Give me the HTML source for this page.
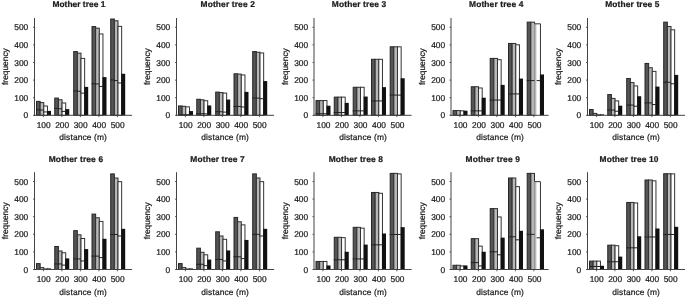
<!DOCTYPE html>
<html><head><meta charset="utf-8"><style>
html,body{margin:0;padding:0;background:#fff;}
body{width:685px;height:297px;overflow:hidden;}
svg{display:block;filter:grayscale(1) blur(0.3px);}
text{text-rendering:geometricPrecision;font-family:"Liberation Sans",sans-serif;font-size:8.4px;fill:#1a1a1a;stroke:#1a1a1a;stroke-width:0.22px;}
</style></head><body>
<svg width="685" height="297" viewBox="0 0 685 297">
<rect width="685" height="297" fill="#fff"/>
<g><rect x="36.5" y="101.37" width="3.65" height="13.93" fill="#555555" stroke="#262626" stroke-width="1"/><rect x="40.15" y="102.6" width="3.65" height="12.7" fill="#b8b8b8" stroke="#2e2e2e" stroke-width="1"/><rect x="43.8" y="106.03" width="3.65" height="9.27" fill="#ffffff" stroke="#333333" stroke-width="1"/><rect x="46.95" y="110.9" width="4.05" height="4.4" fill="#111111"/><line x1="36" y1="109.73" x2="40.15" y2="109.73" stroke="#222" stroke-width="1"/><line x1="39.65" y1="110.06" x2="43.8" y2="110.06" stroke="#222" stroke-width="1"/><line x1="43.3" y1="111.93" x2="47.45" y2="111.93" stroke="#222" stroke-width="1"/><rect x="54.75" y="98.08" width="3.65" height="17.22" fill="#555555" stroke="#262626" stroke-width="1"/><rect x="58.4" y="99.75" width="3.65" height="15.55" fill="#b8b8b8" stroke="#2e2e2e" stroke-width="1"/><rect x="62.05" y="103" width="3.65" height="12.3" fill="#ffffff" stroke="#333333" stroke-width="1"/><rect x="65.2" y="109.14" width="4.05" height="6.16" fill="#111111"/><line x1="54.25" y1="108.41" x2="58.4" y2="108.41" stroke="#222" stroke-width="1"/><line x1="57.9" y1="108.76" x2="62.05" y2="108.76" stroke="#222" stroke-width="1"/><line x1="61.55" y1="111.4" x2="65.7" y2="111.4" stroke="#222" stroke-width="1"/><rect x="73.7" y="51.56" width="3.65" height="63.74" fill="#555555" stroke="#262626" stroke-width="1"/><rect x="77.35" y="53.14" width="3.65" height="62.16" fill="#b8b8b8" stroke="#2e2e2e" stroke-width="1"/><rect x="81" y="58.42" width="3.65" height="56.88" fill="#ffffff" stroke="#333333" stroke-width="1"/><rect x="84.15" y="86.89" width="4.05" height="28.41" fill="#111111"/><line x1="73.2" y1="90.91" x2="77.35" y2="90.91" stroke="#222" stroke-width="1"/><line x1="76.85" y1="91.25" x2="81" y2="91.25" stroke="#222" stroke-width="1"/><line x1="80.5" y1="93.1" x2="84.65" y2="93.1" stroke="#222" stroke-width="1"/><rect x="92" y="26.57" width="3.65" height="88.73" fill="#555555" stroke="#262626" stroke-width="1"/><rect x="95.65" y="28.15" width="3.65" height="87.15" fill="#b8b8b8" stroke="#2e2e2e" stroke-width="1"/><rect x="99.3" y="33.96" width="3.65" height="81.34" fill="#ffffff" stroke="#333333" stroke-width="1"/><rect x="102.45" y="77.11" width="4.05" height="38.19" fill="#111111"/><line x1="91.5" y1="83.77" x2="95.65" y2="83.77" stroke="#222" stroke-width="1"/><line x1="95.15" y1="83.94" x2="99.3" y2="83.94" stroke="#222" stroke-width="1"/><line x1="98.8" y1="86.41" x2="102.95" y2="86.41" stroke="#222" stroke-width="1"/><rect x="110.7" y="19" width="3.65" height="96.3" fill="#555555" stroke="#262626" stroke-width="1"/><rect x="114.35" y="20.76" width="3.65" height="94.54" fill="#b8b8b8" stroke="#2e2e2e" stroke-width="1"/><rect x="118" y="26.39" width="3.65" height="88.91" fill="#ffffff" stroke="#333333" stroke-width="1"/><rect x="121.15" y="73.76" width="4.05" height="41.54" fill="#111111"/><line x1="110.2" y1="79.93" x2="114.35" y2="79.93" stroke="#222" stroke-width="1"/><line x1="113.85" y1="80.6" x2="118" y2="80.6" stroke="#222" stroke-width="1"/><line x1="117.5" y1="82.94" x2="121.65" y2="82.94" stroke="#222" stroke-width="1"/><line x1="34.5" y1="18" x2="34.5" y2="115.8" stroke="#444" stroke-width="1"/><line x1="34" y1="115.3" x2="132.1" y2="115.3" stroke="#444" stroke-width="1"/><line x1="33" y1="115.3" x2="34.5" y2="115.3" stroke="#333" stroke-width="0.8"/><text x="28.2" y="118.4" text-anchor="end">0</text><line x1="33" y1="97.7" x2="34.5" y2="97.7" stroke="#333" stroke-width="0.8"/><text x="28.2" y="100.8" text-anchor="end" textLength="13.9" lengthAdjust="spacing">100</text><line x1="33" y1="80.1" x2="34.5" y2="80.1" stroke="#333" stroke-width="0.8"/><text x="28.2" y="83.2" text-anchor="end" textLength="13.9" lengthAdjust="spacing">200</text><line x1="33" y1="62.5" x2="34.5" y2="62.5" stroke="#333" stroke-width="0.8"/><text x="28.2" y="65.6" text-anchor="end" textLength="13.9" lengthAdjust="spacing">300</text><line x1="33" y1="44.9" x2="34.5" y2="44.9" stroke="#333" stroke-width="0.8"/><text x="28.2" y="48" text-anchor="end" textLength="13.9" lengthAdjust="spacing">400</text><line x1="33" y1="27.3" x2="34.5" y2="27.3" stroke="#333" stroke-width="0.8"/><text x="28.2" y="30.4" text-anchor="end" textLength="13.9" lengthAdjust="spacing">500</text><line x1="43.4" y1="115.3" x2="43.4" y2="117.1" stroke="#333" stroke-width="0.8"/><text x="43.6" y="127.9" text-anchor="middle" textLength="13.9" lengthAdjust="spacing">100</text><line x1="61.9" y1="115.3" x2="61.9" y2="117.1" stroke="#333" stroke-width="0.8"/><text x="62.1" y="127.9" text-anchor="middle" textLength="13.9" lengthAdjust="spacing">200</text><line x1="80.4" y1="115.3" x2="80.4" y2="117.1" stroke="#333" stroke-width="0.8"/><text x="80.6" y="127.9" text-anchor="middle" textLength="13.9" lengthAdjust="spacing">300</text><line x1="98.9" y1="115.3" x2="98.9" y2="117.1" stroke="#333" stroke-width="0.8"/><text x="99.1" y="127.9" text-anchor="middle" textLength="13.9" lengthAdjust="spacing">400</text><line x1="117.4" y1="115.3" x2="117.4" y2="117.1" stroke="#333" stroke-width="0.8"/><text x="117.6" y="127.9" text-anchor="middle" textLength="13.9" lengthAdjust="spacing">500</text><text x="83.1" y="140.3" text-anchor="middle" font-size="8.6" textLength="47.6" lengthAdjust="spacing">distance (m)</text><text transform="translate(7.6,66.6) rotate(-90)" text-anchor="middle">frequency</text><text x="78.9" y="7.2" text-anchor="middle" font-weight="bold" font-size="8.6" textLength="52.9" lengthAdjust="spacing">Mother tree 1</text></g>
<g><rect x="178.5" y="105.94" width="3.65" height="9.36" fill="#555555" stroke="#262626" stroke-width="1"/><rect x="182.15" y="106.3" width="3.65" height="9" fill="#b8b8b8" stroke="#2e2e2e" stroke-width="1"/><rect x="185.8" y="106.89" width="3.65" height="8.41" fill="#ffffff" stroke="#333333" stroke-width="1"/><rect x="188.95" y="111.08" width="4.05" height="4.22" fill="#111111"/><line x1="178" y1="114.74" x2="182.15" y2="114.74" stroke="#222" stroke-width="1"/><line x1="181.65" y1="114.74" x2="185.8" y2="114.74" stroke="#222" stroke-width="1"/><line x1="185.3" y1="114.74" x2="189.45" y2="114.74" stroke="#222" stroke-width="1"/><rect x="196.75" y="99.26" width="3.65" height="16.04" fill="#555555" stroke="#262626" stroke-width="1"/><rect x="200.4" y="99.78" width="3.65" height="15.52" fill="#b8b8b8" stroke="#2e2e2e" stroke-width="1"/><rect x="204.05" y="100.73" width="3.65" height="14.57" fill="#ffffff" stroke="#333333" stroke-width="1"/><rect x="207.2" y="105.44" width="4.05" height="9.86" fill="#111111"/><line x1="196.25" y1="113.69" x2="200.4" y2="113.69" stroke="#222" stroke-width="1"/><line x1="199.9" y1="113.69" x2="204.05" y2="113.69" stroke="#222" stroke-width="1"/><line x1="203.55" y1="113.86" x2="207.7" y2="113.86" stroke="#222" stroke-width="1"/><rect x="215.7" y="92.09" width="3.65" height="23.21" fill="#555555" stroke="#262626" stroke-width="1"/><rect x="219.35" y="92.57" width="3.65" height="22.73" fill="#b8b8b8" stroke="#2e2e2e" stroke-width="1"/><rect x="223" y="93.1" width="3.65" height="22.2" fill="#ffffff" stroke="#333333" stroke-width="1"/><rect x="226.15" y="99.55" width="4.05" height="15.75" fill="#111111"/><line x1="215.2" y1="111.75" x2="219.35" y2="111.75" stroke="#222" stroke-width="1"/><line x1="218.85" y1="111.75" x2="223" y2="111.75" stroke="#222" stroke-width="1"/><line x1="222.5" y1="112.1" x2="226.65" y2="112.1" stroke="#222" stroke-width="1"/><rect x="234" y="73.79" width="3.65" height="41.51" fill="#555555" stroke="#262626" stroke-width="1"/><rect x="237.65" y="74.09" width="3.65" height="41.21" fill="#b8b8b8" stroke="#2e2e2e" stroke-width="1"/><rect x="241.3" y="74.97" width="3.65" height="40.33" fill="#ffffff" stroke="#333333" stroke-width="1"/><rect x="244.45" y="91.89" width="4.05" height="23.41" fill="#111111"/><line x1="233.5" y1="106.47" x2="237.65" y2="106.47" stroke="#222" stroke-width="1"/><line x1="237.15" y1="106.47" x2="241.3" y2="106.47" stroke="#222" stroke-width="1"/><line x1="240.8" y1="107" x2="244.95" y2="107" stroke="#222" stroke-width="1"/><rect x="252.7" y="51.56" width="3.65" height="63.74" fill="#555555" stroke="#262626" stroke-width="1"/><rect x="256.35" y="52.26" width="3.65" height="63.04" fill="#b8b8b8" stroke="#2e2e2e" stroke-width="1"/><rect x="260" y="52.97" width="3.65" height="62.33" fill="#ffffff" stroke="#333333" stroke-width="1"/><rect x="263.15" y="81.07" width="4.05" height="34.23" fill="#111111"/><line x1="252.2" y1="98.08" x2="256.35" y2="98.08" stroke="#222" stroke-width="1"/><line x1="255.85" y1="98.08" x2="260" y2="98.08" stroke="#222" stroke-width="1"/><line x1="259.5" y1="98.73" x2="263.65" y2="98.73" stroke="#222" stroke-width="1"/><line x1="176.5" y1="18" x2="176.5" y2="115.8" stroke="#444" stroke-width="1"/><line x1="176" y1="115.3" x2="274.1" y2="115.3" stroke="#444" stroke-width="1"/><line x1="175" y1="115.3" x2="176.5" y2="115.3" stroke="#333" stroke-width="0.8"/><text x="170.2" y="118.4" text-anchor="end">0</text><line x1="175" y1="97.7" x2="176.5" y2="97.7" stroke="#333" stroke-width="0.8"/><text x="170.2" y="100.8" text-anchor="end" textLength="13.9" lengthAdjust="spacing">100</text><line x1="175" y1="80.1" x2="176.5" y2="80.1" stroke="#333" stroke-width="0.8"/><text x="170.2" y="83.2" text-anchor="end" textLength="13.9" lengthAdjust="spacing">200</text><line x1="175" y1="62.5" x2="176.5" y2="62.5" stroke="#333" stroke-width="0.8"/><text x="170.2" y="65.6" text-anchor="end" textLength="13.9" lengthAdjust="spacing">300</text><line x1="175" y1="44.9" x2="176.5" y2="44.9" stroke="#333" stroke-width="0.8"/><text x="170.2" y="48" text-anchor="end" textLength="13.9" lengthAdjust="spacing">400</text><line x1="175" y1="27.3" x2="176.5" y2="27.3" stroke="#333" stroke-width="0.8"/><text x="170.2" y="30.4" text-anchor="end" textLength="13.9" lengthAdjust="spacing">500</text><line x1="185.4" y1="115.3" x2="185.4" y2="117.1" stroke="#333" stroke-width="0.8"/><text x="185.6" y="127.9" text-anchor="middle" textLength="13.9" lengthAdjust="spacing">100</text><line x1="203.9" y1="115.3" x2="203.9" y2="117.1" stroke="#333" stroke-width="0.8"/><text x="204.1" y="127.9" text-anchor="middle" textLength="13.9" lengthAdjust="spacing">200</text><line x1="222.4" y1="115.3" x2="222.4" y2="117.1" stroke="#333" stroke-width="0.8"/><text x="222.6" y="127.9" text-anchor="middle" textLength="13.9" lengthAdjust="spacing">300</text><line x1="240.9" y1="115.3" x2="240.9" y2="117.1" stroke="#333" stroke-width="0.8"/><text x="241.1" y="127.9" text-anchor="middle" textLength="13.9" lengthAdjust="spacing">400</text><line x1="259.4" y1="115.3" x2="259.4" y2="117.1" stroke="#333" stroke-width="0.8"/><text x="259.6" y="127.9" text-anchor="middle" textLength="13.9" lengthAdjust="spacing">500</text><text x="225.1" y="140.3" text-anchor="middle" font-size="8.6" textLength="47.6" lengthAdjust="spacing">distance (m)</text><text transform="translate(149.6,66.6) rotate(-90)" text-anchor="middle">frequency</text><text x="227.7" y="7.2" text-anchor="middle" font-weight="bold" font-size="8.6" textLength="54.3" lengthAdjust="spacing">Mother tree 2</text></g>
<g><rect x="316" y="100.58" width="3.65" height="14.72" fill="#555555" stroke="#262626" stroke-width="1"/><rect x="319.65" y="100.58" width="3.65" height="14.72" fill="#b8b8b8" stroke="#2e2e2e" stroke-width="1"/><rect x="323.3" y="100.58" width="3.65" height="14.72" fill="#ffffff" stroke="#333333" stroke-width="1"/><rect x="326.45" y="105.71" width="4.05" height="9.59" fill="#111111"/><line x1="315.5" y1="113.72" x2="319.65" y2="113.72" stroke="#222" stroke-width="1"/><line x1="319.15" y1="113.72" x2="323.3" y2="113.72" stroke="#222" stroke-width="1"/><line x1="322.8" y1="113.72" x2="326.95" y2="113.72" stroke="#222" stroke-width="1"/><rect x="334.25" y="97.14" width="3.65" height="18.16" fill="#555555" stroke="#262626" stroke-width="1"/><rect x="337.9" y="97.14" width="3.65" height="18.16" fill="#b8b8b8" stroke="#2e2e2e" stroke-width="1"/><rect x="341.55" y="97.14" width="3.65" height="18.16" fill="#ffffff" stroke="#333333" stroke-width="1"/><rect x="344.7" y="102.87" width="4.05" height="12.43" fill="#111111"/><line x1="333.75" y1="112.56" x2="337.9" y2="112.56" stroke="#222" stroke-width="1"/><line x1="337.4" y1="112.56" x2="341.55" y2="112.56" stroke="#222" stroke-width="1"/><line x1="341.05" y1="112.56" x2="345.2" y2="112.56" stroke="#222" stroke-width="1"/><rect x="353.2" y="87.29" width="3.65" height="28.01" fill="#555555" stroke="#262626" stroke-width="1"/><rect x="356.85" y="87.29" width="3.65" height="28.01" fill="#b8b8b8" stroke="#2e2e2e" stroke-width="1"/><rect x="360.5" y="87.29" width="3.65" height="28.01" fill="#ffffff" stroke="#333333" stroke-width="1"/><rect x="363.65" y="96.56" width="4.05" height="18.74" fill="#111111"/><line x1="352.7" y1="110.87" x2="356.85" y2="110.87" stroke="#222" stroke-width="1"/><line x1="356.35" y1="110.87" x2="360.5" y2="110.87" stroke="#222" stroke-width="1"/><line x1="360" y1="110.87" x2="364.15" y2="110.87" stroke="#222" stroke-width="1"/><rect x="371.5" y="59.3" width="3.65" height="56" fill="#555555" stroke="#262626" stroke-width="1"/><rect x="375.15" y="59.3" width="3.65" height="56" fill="#b8b8b8" stroke="#2e2e2e" stroke-width="1"/><rect x="378.8" y="59.3" width="3.65" height="56" fill="#ffffff" stroke="#333333" stroke-width="1"/><rect x="381.95" y="87.14" width="4.05" height="28.16" fill="#111111"/><line x1="371" y1="100.91" x2="375.15" y2="100.91" stroke="#222" stroke-width="1"/><line x1="374.65" y1="100.91" x2="378.8" y2="100.91" stroke="#222" stroke-width="1"/><line x1="378.3" y1="100.91" x2="382.45" y2="100.91" stroke="#222" stroke-width="1"/><rect x="390.2" y="46.81" width="3.65" height="68.49" fill="#555555" stroke="#262626" stroke-width="1"/><rect x="393.85" y="46.81" width="3.65" height="68.49" fill="#b8b8b8" stroke="#2e2e2e" stroke-width="1"/><rect x="397.5" y="46.81" width="3.65" height="68.49" fill="#ffffff" stroke="#333333" stroke-width="1"/><rect x="400.65" y="78.25" width="4.05" height="37.05" fill="#111111"/><line x1="389.7" y1="95.08" x2="393.85" y2="95.08" stroke="#222" stroke-width="1"/><line x1="393.35" y1="95.08" x2="397.5" y2="95.08" stroke="#222" stroke-width="1"/><line x1="397" y1="95.08" x2="401.15" y2="95.08" stroke="#222" stroke-width="1"/><line x1="314" y1="18" x2="314" y2="115.8" stroke="#444" stroke-width="1"/><line x1="313.5" y1="115.3" x2="411.6" y2="115.3" stroke="#444" stroke-width="1"/><line x1="312.5" y1="115.3" x2="314" y2="115.3" stroke="#333" stroke-width="0.8"/><text x="308.1" y="118.4" text-anchor="end">0</text><line x1="312.5" y1="97.7" x2="314" y2="97.7" stroke="#333" stroke-width="0.8"/><text x="308.1" y="100.8" text-anchor="end" textLength="13.9" lengthAdjust="spacing">100</text><line x1="312.5" y1="80.1" x2="314" y2="80.1" stroke="#333" stroke-width="0.8"/><text x="308.1" y="83.2" text-anchor="end" textLength="13.9" lengthAdjust="spacing">200</text><line x1="312.5" y1="62.5" x2="314" y2="62.5" stroke="#333" stroke-width="0.8"/><text x="308.1" y="65.6" text-anchor="end" textLength="13.9" lengthAdjust="spacing">300</text><line x1="312.5" y1="44.9" x2="314" y2="44.9" stroke="#333" stroke-width="0.8"/><text x="308.1" y="48" text-anchor="end" textLength="13.9" lengthAdjust="spacing">400</text><line x1="312.5" y1="27.3" x2="314" y2="27.3" stroke="#333" stroke-width="0.8"/><text x="308.1" y="30.4" text-anchor="end" textLength="13.9" lengthAdjust="spacing">500</text><line x1="322.9" y1="115.3" x2="322.9" y2="117.1" stroke="#333" stroke-width="0.8"/><text x="323.5" y="127.9" text-anchor="middle" textLength="13.9" lengthAdjust="spacing">100</text><line x1="341.4" y1="115.3" x2="341.4" y2="117.1" stroke="#333" stroke-width="0.8"/><text x="342" y="127.9" text-anchor="middle" textLength="13.9" lengthAdjust="spacing">200</text><line x1="359.9" y1="115.3" x2="359.9" y2="117.1" stroke="#333" stroke-width="0.8"/><text x="360.5" y="127.9" text-anchor="middle" textLength="13.9" lengthAdjust="spacing">300</text><line x1="378.4" y1="115.3" x2="378.4" y2="117.1" stroke="#333" stroke-width="0.8"/><text x="379" y="127.9" text-anchor="middle" textLength="13.9" lengthAdjust="spacing">400</text><line x1="396.9" y1="115.3" x2="396.9" y2="117.1" stroke="#333" stroke-width="0.8"/><text x="397.5" y="127.9" text-anchor="middle" textLength="13.9" lengthAdjust="spacing">500</text><text x="363" y="140.3" text-anchor="middle" font-size="8.6" textLength="47.6" lengthAdjust="spacing">distance (m)</text><text transform="translate(287.5,66.6) rotate(-90)" text-anchor="middle">frequency</text><text x="359" y="7.2" text-anchor="middle" font-weight="bold" font-size="8.6" textLength="54.3" lengthAdjust="spacing">Mother tree 3</text></g>
<g><rect x="453" y="110.56" width="3.65" height="4.74" fill="#555555" stroke="#262626" stroke-width="1"/><rect x="456.65" y="110.56" width="3.65" height="4.74" fill="#b8b8b8" stroke="#2e2e2e" stroke-width="1"/><rect x="460.3" y="110.87" width="3.65" height="4.43" fill="#ffffff" stroke="#333333" stroke-width="1"/><rect x="463.45" y="110.72" width="4.05" height="4.58" fill="#111111"/><rect x="471.25" y="86.76" width="3.65" height="28.54" fill="#555555" stroke="#262626" stroke-width="1"/><rect x="474.9" y="86.76" width="3.65" height="28.54" fill="#b8b8b8" stroke="#2e2e2e" stroke-width="1"/><rect x="478.55" y="87.99" width="3.65" height="27.31" fill="#ffffff" stroke="#333333" stroke-width="1"/><rect x="481.7" y="97.7" width="4.05" height="17.6" fill="#111111"/><line x1="470.75" y1="110.87" x2="474.9" y2="110.87" stroke="#222" stroke-width="1"/><line x1="474.4" y1="110.87" x2="478.55" y2="110.87" stroke="#222" stroke-width="1"/><line x1="478.05" y1="110.87" x2="482.2" y2="110.87" stroke="#222" stroke-width="1"/><rect x="490.2" y="58.42" width="3.65" height="56.88" fill="#555555" stroke="#262626" stroke-width="1"/><rect x="493.85" y="58.42" width="3.65" height="56.88" fill="#b8b8b8" stroke="#2e2e2e" stroke-width="1"/><rect x="497.5" y="59.66" width="3.65" height="55.64" fill="#ffffff" stroke="#333333" stroke-width="1"/><rect x="500.65" y="84.9" width="4.05" height="30.4" fill="#111111"/><line x1="489.7" y1="100.07" x2="493.85" y2="100.07" stroke="#222" stroke-width="1"/><line x1="493.35" y1="100.07" x2="497.5" y2="100.07" stroke="#222" stroke-width="1"/><line x1="497" y1="100.07" x2="501.15" y2="100.07" stroke="#222" stroke-width="1"/><rect x="508.5" y="43.46" width="3.65" height="71.84" fill="#555555" stroke="#262626" stroke-width="1"/><rect x="512.15" y="43.46" width="3.65" height="71.84" fill="#b8b8b8" stroke="#2e2e2e" stroke-width="1"/><rect x="515.8" y="44.8" width="3.65" height="70.5" fill="#ffffff" stroke="#333333" stroke-width="1"/><rect x="518.95" y="78.59" width="4.05" height="36.71" fill="#111111"/><line x1="508" y1="93.92" x2="512.15" y2="93.92" stroke="#222" stroke-width="1"/><line x1="511.65" y1="93.92" x2="515.8" y2="93.92" stroke="#222" stroke-width="1"/><line x1="515.3" y1="93.92" x2="519.45" y2="93.92" stroke="#222" stroke-width="1"/><rect x="527.2" y="22.17" width="3.65" height="93.13" fill="#555555" stroke="#262626" stroke-width="1"/><rect x="530.85" y="22.17" width="3.65" height="93.13" fill="#b8b8b8" stroke="#2e2e2e" stroke-width="1"/><rect x="534" y="23.82" width="2.6" height="91.48" fill="#b8b8b8"/><line x1="534.5" y1="23.82" x2="534.5" y2="115.3" stroke="#909090" stroke-width="0.9"/><rect x="536.6" y="23.82" width="3.85" height="91.48" fill="#fff"/><path d="M534.9 23.82H540.45V115.3" fill="none" stroke="#333333" stroke-width="1"/><rect x="539.95" y="74.47" width="4.05" height="40.83" fill="#111111"/><line x1="526.7" y1="80.6" x2="530.85" y2="80.6" stroke="#222" stroke-width="1"/><line x1="530.35" y1="80.6" x2="534.5" y2="80.6" stroke="#222" stroke-width="1"/><line x1="536.6" y1="80.6" x2="540.45" y2="80.6" stroke="#222" stroke-width="1"/><line x1="451" y1="18" x2="451" y2="115.8" stroke="#444" stroke-width="1"/><line x1="450.5" y1="115.3" x2="548.6" y2="115.3" stroke="#444" stroke-width="1"/><line x1="449.5" y1="115.3" x2="451" y2="115.3" stroke="#333" stroke-width="0.8"/><text x="445.1" y="118.4" text-anchor="end">0</text><line x1="449.5" y1="97.7" x2="451" y2="97.7" stroke="#333" stroke-width="0.8"/><text x="445.1" y="100.8" text-anchor="end" textLength="13.9" lengthAdjust="spacing">100</text><line x1="449.5" y1="80.1" x2="451" y2="80.1" stroke="#333" stroke-width="0.8"/><text x="445.1" y="83.2" text-anchor="end" textLength="13.9" lengthAdjust="spacing">200</text><line x1="449.5" y1="62.5" x2="451" y2="62.5" stroke="#333" stroke-width="0.8"/><text x="445.1" y="65.6" text-anchor="end" textLength="13.9" lengthAdjust="spacing">300</text><line x1="449.5" y1="44.9" x2="451" y2="44.9" stroke="#333" stroke-width="0.8"/><text x="445.1" y="48" text-anchor="end" textLength="13.9" lengthAdjust="spacing">400</text><line x1="449.5" y1="27.3" x2="451" y2="27.3" stroke="#333" stroke-width="0.8"/><text x="445.1" y="30.4" text-anchor="end" textLength="13.9" lengthAdjust="spacing">500</text><line x1="459.9" y1="115.3" x2="459.9" y2="117.1" stroke="#333" stroke-width="0.8"/><text x="460.5" y="127.9" text-anchor="middle" textLength="13.9" lengthAdjust="spacing">100</text><line x1="478.4" y1="115.3" x2="478.4" y2="117.1" stroke="#333" stroke-width="0.8"/><text x="479" y="127.9" text-anchor="middle" textLength="13.9" lengthAdjust="spacing">200</text><line x1="496.9" y1="115.3" x2="496.9" y2="117.1" stroke="#333" stroke-width="0.8"/><text x="497.5" y="127.9" text-anchor="middle" textLength="13.9" lengthAdjust="spacing">300</text><line x1="515.4" y1="115.3" x2="515.4" y2="117.1" stroke="#333" stroke-width="0.8"/><text x="516" y="127.9" text-anchor="middle" textLength="13.9" lengthAdjust="spacing">400</text><line x1="533.9" y1="115.3" x2="533.9" y2="117.1" stroke="#333" stroke-width="0.8"/><text x="534.5" y="127.9" text-anchor="middle" textLength="13.9" lengthAdjust="spacing">500</text><text x="500" y="140.3" text-anchor="middle" font-size="8.6" textLength="47.6" lengthAdjust="spacing">distance (m)</text><text transform="translate(424.5,66.6) rotate(-90)" text-anchor="middle">frequency</text><text x="496.2" y="7.2" text-anchor="middle" font-weight="bold" font-size="8.6" textLength="54.3" lengthAdjust="spacing">Mother tree 4</text></g>
<g><rect x="589.5" y="109.55" width="3.65" height="5.75" fill="#555555" stroke="#262626" stroke-width="1"/><rect x="593.15" y="113.39" width="3.65" height="1.91" fill="#b8b8b8" stroke="#2e2e2e" stroke-width="1"/><rect x="596.8" y="114.74" width="3.65" height="0.56" fill="#ffffff" stroke="#333333" stroke-width="1"/><rect x="599.95" y="114.35" width="4.05" height="0.95" fill="#111111"/><rect x="607.75" y="94.57" width="3.65" height="20.73" fill="#555555" stroke="#262626" stroke-width="1"/><rect x="611.4" y="98.41" width="3.65" height="16.89" fill="#b8b8b8" stroke="#2e2e2e" stroke-width="1"/><rect x="615.05" y="100.91" width="3.65" height="14.39" fill="#ffffff" stroke="#333333" stroke-width="1"/><rect x="618.2" y="105.71" width="4.05" height="9.59" fill="#111111"/><line x1="607.25" y1="110.06" x2="611.4" y2="110.06" stroke="#222" stroke-width="1"/><line x1="610.9" y1="110.06" x2="615.05" y2="110.06" stroke="#222" stroke-width="1"/><line x1="614.55" y1="111.22" x2="618.7" y2="111.22" stroke="#222" stroke-width="1"/><rect x="626.7" y="78.49" width="3.65" height="36.81" fill="#555555" stroke="#262626" stroke-width="1"/><rect x="630.35" y="82.61" width="3.65" height="32.69" fill="#b8b8b8" stroke="#2e2e2e" stroke-width="1"/><rect x="634" y="85.93" width="3.65" height="29.37" fill="#ffffff" stroke="#333333" stroke-width="1"/><rect x="637.15" y="96.22" width="4.05" height="19.08" fill="#111111"/><line x1="626.2" y1="105.06" x2="630.35" y2="105.06" stroke="#222" stroke-width="1"/><line x1="629.85" y1="105.06" x2="634" y2="105.06" stroke="#222" stroke-width="1"/><line x1="633.5" y1="106.23" x2="637.65" y2="106.23" stroke="#222" stroke-width="1"/><rect x="645" y="63.44" width="3.65" height="51.86" fill="#555555" stroke="#262626" stroke-width="1"/><rect x="648.65" y="67.75" width="3.65" height="47.55" fill="#b8b8b8" stroke="#2e2e2e" stroke-width="1"/><rect x="652.3" y="71.36" width="3.65" height="43.94" fill="#ffffff" stroke="#333333" stroke-width="1"/><rect x="655.45" y="86.61" width="4.05" height="28.69" fill="#111111"/><line x1="644.5" y1="102.9" x2="648.65" y2="102.9" stroke="#222" stroke-width="1"/><line x1="648.15" y1="102.9" x2="652.3" y2="102.9" stroke="#222" stroke-width="1"/><line x1="651.8" y1="104.57" x2="655.95" y2="104.57" stroke="#222" stroke-width="1"/><rect x="663.7" y="22.17" width="3.65" height="93.13" fill="#555555" stroke="#262626" stroke-width="1"/><rect x="667.35" y="26.48" width="3.65" height="88.82" fill="#b8b8b8" stroke="#2e2e2e" stroke-width="1"/><rect x="671" y="29.81" width="3.65" height="85.49" fill="#ffffff" stroke="#333333" stroke-width="1"/><rect x="674.15" y="74.91" width="4.05" height="40.39" fill="#111111"/><line x1="663.2" y1="82.27" x2="667.35" y2="82.27" stroke="#222" stroke-width="1"/><line x1="666.85" y1="82.27" x2="671" y2="82.27" stroke="#222" stroke-width="1"/><line x1="670.5" y1="83.77" x2="674.65" y2="83.77" stroke="#222" stroke-width="1"/><line x1="587.5" y1="18" x2="587.5" y2="115.8" stroke="#444" stroke-width="1"/><line x1="587" y1="115.3" x2="685.1" y2="115.3" stroke="#444" stroke-width="1"/><line x1="586" y1="115.3" x2="587.5" y2="115.3" stroke="#333" stroke-width="0.8"/><text x="581.2" y="118.4" text-anchor="end">0</text><line x1="586" y1="97.7" x2="587.5" y2="97.7" stroke="#333" stroke-width="0.8"/><text x="581.2" y="100.8" text-anchor="end" textLength="13.9" lengthAdjust="spacing">100</text><line x1="586" y1="80.1" x2="587.5" y2="80.1" stroke="#333" stroke-width="0.8"/><text x="581.2" y="83.2" text-anchor="end" textLength="13.9" lengthAdjust="spacing">200</text><line x1="586" y1="62.5" x2="587.5" y2="62.5" stroke="#333" stroke-width="0.8"/><text x="581.2" y="65.6" text-anchor="end" textLength="13.9" lengthAdjust="spacing">300</text><line x1="586" y1="44.9" x2="587.5" y2="44.9" stroke="#333" stroke-width="0.8"/><text x="581.2" y="48" text-anchor="end" textLength="13.9" lengthAdjust="spacing">400</text><line x1="586" y1="27.3" x2="587.5" y2="27.3" stroke="#333" stroke-width="0.8"/><text x="581.2" y="30.4" text-anchor="end" textLength="13.9" lengthAdjust="spacing">500</text><line x1="596.4" y1="115.3" x2="596.4" y2="117.1" stroke="#333" stroke-width="0.8"/><text x="596.6" y="127.9" text-anchor="middle" textLength="13.9" lengthAdjust="spacing">100</text><line x1="614.9" y1="115.3" x2="614.9" y2="117.1" stroke="#333" stroke-width="0.8"/><text x="615.1" y="127.9" text-anchor="middle" textLength="13.9" lengthAdjust="spacing">200</text><line x1="633.4" y1="115.3" x2="633.4" y2="117.1" stroke="#333" stroke-width="0.8"/><text x="633.6" y="127.9" text-anchor="middle" textLength="13.9" lengthAdjust="spacing">300</text><line x1="651.9" y1="115.3" x2="651.9" y2="117.1" stroke="#333" stroke-width="0.8"/><text x="652.1" y="127.9" text-anchor="middle" textLength="13.9" lengthAdjust="spacing">400</text><line x1="670.4" y1="115.3" x2="670.4" y2="117.1" stroke="#333" stroke-width="0.8"/><text x="670.6" y="127.9" text-anchor="middle" textLength="13.9" lengthAdjust="spacing">500</text><text x="636.1" y="140.3" text-anchor="middle" font-size="8.6" textLength="47.6" lengthAdjust="spacing">distance (m)</text><text transform="translate(560.6,66.6) rotate(-90)" text-anchor="middle">frequency</text><text x="632.3" y="7.2" text-anchor="middle" font-weight="bold" font-size="8.6" textLength="54.3" lengthAdjust="spacing">Mother tree 5</text></g>
<g><rect x="36.5" y="263.61" width="3.65" height="5.89" fill="#555555" stroke="#262626" stroke-width="1"/><rect x="40.15" y="267.61" width="3.65" height="1.89" fill="#b8b8b8" stroke="#2e2e2e" stroke-width="1"/><rect x="43.8" y="268.94" width="3.65" height="0.56" fill="#ffffff" stroke="#333333" stroke-width="1"/><rect x="46.95" y="268.41" width="4.05" height="1.09" fill="#111111"/><rect x="54.75" y="246.47" width="3.65" height="23.03" fill="#555555" stroke="#262626" stroke-width="1"/><rect x="58.4" y="250.99" width="3.65" height="18.51" fill="#b8b8b8" stroke="#2e2e2e" stroke-width="1"/><rect x="62.05" y="252.79" width="3.65" height="16.71" fill="#ffffff" stroke="#333333" stroke-width="1"/><rect x="65.2" y="258.41" width="4.05" height="11.09" fill="#111111"/><line x1="54.25" y1="263.95" x2="58.4" y2="263.95" stroke="#222" stroke-width="1"/><line x1="57.9" y1="263.95" x2="62.05" y2="263.95" stroke="#222" stroke-width="1"/><line x1="61.55" y1="265.11" x2="65.7" y2="265.11" stroke="#222" stroke-width="1"/><rect x="73.7" y="230.66" width="3.65" height="38.84" fill="#555555" stroke="#262626" stroke-width="1"/><rect x="77.35" y="234.8" width="3.65" height="34.7" fill="#b8b8b8" stroke="#2e2e2e" stroke-width="1"/><rect x="81" y="238.5" width="3.65" height="31" fill="#ffffff" stroke="#333333" stroke-width="1"/><rect x="84.15" y="249.08" width="4.05" height="20.42" fill="#111111"/><line x1="73.2" y1="258.95" x2="77.35" y2="258.95" stroke="#222" stroke-width="1"/><line x1="76.85" y1="258.95" x2="81" y2="258.95" stroke="#222" stroke-width="1"/><line x1="80.5" y1="260.95" x2="84.65" y2="260.95" stroke="#222" stroke-width="1"/><rect x="92" y="214.1" width="3.65" height="55.4" fill="#555555" stroke="#262626" stroke-width="1"/><rect x="95.65" y="217.76" width="3.65" height="51.74" fill="#b8b8b8" stroke="#2e2e2e" stroke-width="1"/><rect x="99.3" y="221.42" width="3.65" height="48.08" fill="#ffffff" stroke="#333333" stroke-width="1"/><rect x="102.45" y="238.79" width="4.05" height="30.71" fill="#111111"/><line x1="91.5" y1="256.11" x2="95.65" y2="256.11" stroke="#222" stroke-width="1"/><line x1="95.15" y1="256.11" x2="99.3" y2="256.11" stroke="#222" stroke-width="1"/><line x1="98.8" y1="257.63" x2="102.95" y2="257.63" stroke="#222" stroke-width="1"/><rect x="110.7" y="173.9" width="3.65" height="95.6" fill="#555555" stroke="#262626" stroke-width="1"/><rect x="114.35" y="178" width="3.65" height="91.5" fill="#b8b8b8" stroke="#2e2e2e" stroke-width="1"/><rect x="118" y="181.65" width="3.65" height="87.85" fill="#ffffff" stroke="#333333" stroke-width="1"/><rect x="121.15" y="228.84" width="4.05" height="40.66" fill="#111111"/><line x1="110.2" y1="234.48" x2="114.35" y2="234.48" stroke="#222" stroke-width="1"/><line x1="113.85" y1="234.48" x2="118" y2="234.48" stroke="#222" stroke-width="1"/><line x1="117.5" y1="235.98" x2="121.65" y2="235.98" stroke="#222" stroke-width="1"/><line x1="34.5" y1="172.2" x2="34.5" y2="270" stroke="#444" stroke-width="1"/><line x1="34" y1="269.5" x2="132.1" y2="269.5" stroke="#444" stroke-width="1"/><line x1="33" y1="269.5" x2="34.5" y2="269.5" stroke="#333" stroke-width="0.8"/><text x="28.2" y="272.6" text-anchor="end">0</text><line x1="33" y1="251.9" x2="34.5" y2="251.9" stroke="#333" stroke-width="0.8"/><text x="28.2" y="255" text-anchor="end" textLength="13.9" lengthAdjust="spacing">100</text><line x1="33" y1="234.3" x2="34.5" y2="234.3" stroke="#333" stroke-width="0.8"/><text x="28.2" y="237.4" text-anchor="end" textLength="13.9" lengthAdjust="spacing">200</text><line x1="33" y1="216.7" x2="34.5" y2="216.7" stroke="#333" stroke-width="0.8"/><text x="28.2" y="219.8" text-anchor="end" textLength="13.9" lengthAdjust="spacing">300</text><line x1="33" y1="199.1" x2="34.5" y2="199.1" stroke="#333" stroke-width="0.8"/><text x="28.2" y="202.2" text-anchor="end" textLength="13.9" lengthAdjust="spacing">400</text><line x1="33" y1="181.5" x2="34.5" y2="181.5" stroke="#333" stroke-width="0.8"/><text x="28.2" y="184.6" text-anchor="end" textLength="13.9" lengthAdjust="spacing">500</text><line x1="43.4" y1="269.5" x2="43.4" y2="271.3" stroke="#333" stroke-width="0.8"/><text x="43.6" y="282.1" text-anchor="middle" textLength="13.9" lengthAdjust="spacing">100</text><line x1="61.9" y1="269.5" x2="61.9" y2="271.3" stroke="#333" stroke-width="0.8"/><text x="62.1" y="282.1" text-anchor="middle" textLength="13.9" lengthAdjust="spacing">200</text><line x1="80.4" y1="269.5" x2="80.4" y2="271.3" stroke="#333" stroke-width="0.8"/><text x="80.6" y="282.1" text-anchor="middle" textLength="13.9" lengthAdjust="spacing">300</text><line x1="98.9" y1="269.5" x2="98.9" y2="271.3" stroke="#333" stroke-width="0.8"/><text x="99.1" y="282.1" text-anchor="middle" textLength="13.9" lengthAdjust="spacing">400</text><line x1="117.4" y1="269.5" x2="117.4" y2="271.3" stroke="#333" stroke-width="0.8"/><text x="117.6" y="282.1" text-anchor="middle" textLength="13.9" lengthAdjust="spacing">500</text><text x="83.1" y="294.5" text-anchor="middle" font-size="8.6" textLength="47.6" lengthAdjust="spacing">distance (m)</text><text transform="translate(7.6,220.8) rotate(-90)" text-anchor="middle">frequency</text><text x="75.9" y="162.1" text-anchor="middle" font-weight="bold" font-size="8.6" textLength="54.3" lengthAdjust="spacing">Mother tree 6</text></g>
<g><rect x="178.5" y="263.61" width="3.65" height="5.89" fill="#555555" stroke="#262626" stroke-width="1"/><rect x="182.15" y="267.61" width="3.65" height="1.89" fill="#b8b8b8" stroke="#2e2e2e" stroke-width="1"/><rect x="185.8" y="268.94" width="3.65" height="0.56" fill="#ffffff" stroke="#333333" stroke-width="1"/><rect x="188.95" y="268.44" width="4.05" height="1.06" fill="#111111"/><rect x="196.75" y="248.18" width="3.65" height="21.32" fill="#555555" stroke="#262626" stroke-width="1"/><rect x="200.4" y="252.29" width="3.65" height="17.21" fill="#b8b8b8" stroke="#2e2e2e" stroke-width="1"/><rect x="204.05" y="254.79" width="3.65" height="14.71" fill="#ffffff" stroke="#333333" stroke-width="1"/><rect x="207.2" y="259.59" width="4.05" height="9.91" fill="#111111"/><line x1="196.25" y1="264.28" x2="200.4" y2="264.28" stroke="#222" stroke-width="1"/><line x1="199.9" y1="264.28" x2="204.05" y2="264.28" stroke="#222" stroke-width="1"/><line x1="203.55" y1="265.6" x2="207.7" y2="265.6" stroke="#222" stroke-width="1"/><rect x="215.7" y="231.81" width="3.65" height="37.69" fill="#555555" stroke="#262626" stroke-width="1"/><rect x="219.35" y="235.98" width="3.65" height="33.52" fill="#b8b8b8" stroke="#2e2e2e" stroke-width="1"/><rect x="223" y="239.31" width="3.65" height="30.19" fill="#ffffff" stroke="#333333" stroke-width="1"/><rect x="226.15" y="250.44" width="4.05" height="19.06" fill="#111111"/><line x1="215.2" y1="259.44" x2="219.35" y2="259.44" stroke="#222" stroke-width="1"/><line x1="218.85" y1="259.44" x2="223" y2="259.44" stroke="#222" stroke-width="1"/><line x1="222.5" y1="260.95" x2="226.65" y2="260.95" stroke="#222" stroke-width="1"/><rect x="234" y="217.43" width="3.65" height="52.07" fill="#555555" stroke="#262626" stroke-width="1"/><rect x="237.65" y="221.78" width="3.65" height="47.72" fill="#b8b8b8" stroke="#2e2e2e" stroke-width="1"/><rect x="241.3" y="224.86" width="3.65" height="44.64" fill="#ffffff" stroke="#333333" stroke-width="1"/><rect x="244.45" y="239.93" width="4.05" height="29.57" fill="#111111"/><line x1="233.5" y1="256.8" x2="237.65" y2="256.8" stroke="#222" stroke-width="1"/><line x1="237.15" y1="256.8" x2="241.3" y2="256.8" stroke="#222" stroke-width="1"/><line x1="240.8" y1="258.61" x2="244.95" y2="258.61" stroke="#222" stroke-width="1"/><rect x="252.7" y="173.9" width="3.65" height="95.6" fill="#555555" stroke="#262626" stroke-width="1"/><rect x="256.35" y="178" width="3.65" height="91.5" fill="#b8b8b8" stroke="#2e2e2e" stroke-width="1"/><rect x="260" y="181.65" width="3.65" height="87.85" fill="#ffffff" stroke="#333333" stroke-width="1"/><rect x="263.15" y="228.84" width="4.05" height="40.66" fill="#111111"/><line x1="252.2" y1="234.32" x2="256.35" y2="234.32" stroke="#222" stroke-width="1"/><line x1="255.85" y1="234.32" x2="260" y2="234.32" stroke="#222" stroke-width="1"/><line x1="259.5" y1="235.98" x2="263.65" y2="235.98" stroke="#222" stroke-width="1"/><line x1="176.5" y1="172.2" x2="176.5" y2="270" stroke="#444" stroke-width="1"/><line x1="176" y1="269.5" x2="274.1" y2="269.5" stroke="#444" stroke-width="1"/><line x1="175" y1="269.5" x2="176.5" y2="269.5" stroke="#333" stroke-width="0.8"/><text x="170.2" y="272.6" text-anchor="end">0</text><line x1="175" y1="251.9" x2="176.5" y2="251.9" stroke="#333" stroke-width="0.8"/><text x="170.2" y="255" text-anchor="end" textLength="13.9" lengthAdjust="spacing">100</text><line x1="175" y1="234.3" x2="176.5" y2="234.3" stroke="#333" stroke-width="0.8"/><text x="170.2" y="237.4" text-anchor="end" textLength="13.9" lengthAdjust="spacing">200</text><line x1="175" y1="216.7" x2="176.5" y2="216.7" stroke="#333" stroke-width="0.8"/><text x="170.2" y="219.8" text-anchor="end" textLength="13.9" lengthAdjust="spacing">300</text><line x1="175" y1="199.1" x2="176.5" y2="199.1" stroke="#333" stroke-width="0.8"/><text x="170.2" y="202.2" text-anchor="end" textLength="13.9" lengthAdjust="spacing">400</text><line x1="175" y1="181.5" x2="176.5" y2="181.5" stroke="#333" stroke-width="0.8"/><text x="170.2" y="184.6" text-anchor="end" textLength="13.9" lengthAdjust="spacing">500</text><line x1="185.4" y1="269.5" x2="185.4" y2="271.3" stroke="#333" stroke-width="0.8"/><text x="185.6" y="282.1" text-anchor="middle" textLength="13.9" lengthAdjust="spacing">100</text><line x1="203.9" y1="269.5" x2="203.9" y2="271.3" stroke="#333" stroke-width="0.8"/><text x="204.1" y="282.1" text-anchor="middle" textLength="13.9" lengthAdjust="spacing">200</text><line x1="222.4" y1="269.5" x2="222.4" y2="271.3" stroke="#333" stroke-width="0.8"/><text x="222.6" y="282.1" text-anchor="middle" textLength="13.9" lengthAdjust="spacing">300</text><line x1="240.9" y1="269.5" x2="240.9" y2="271.3" stroke="#333" stroke-width="0.8"/><text x="241.1" y="282.1" text-anchor="middle" textLength="13.9" lengthAdjust="spacing">400</text><line x1="259.4" y1="269.5" x2="259.4" y2="271.3" stroke="#333" stroke-width="0.8"/><text x="259.6" y="282.1" text-anchor="middle" textLength="13.9" lengthAdjust="spacing">500</text><text x="225.1" y="294.5" text-anchor="middle" font-size="8.6" textLength="47.6" lengthAdjust="spacing">distance (m)</text><text transform="translate(149.6,220.8) rotate(-90)" text-anchor="middle">frequency</text><text x="217.5" y="162.1" text-anchor="middle" font-weight="bold" font-size="8.6" textLength="54.3" lengthAdjust="spacing">Mother tree 7</text></g>
<g><rect x="316" y="261.45" width="3.65" height="8.05" fill="#555555" stroke="#262626" stroke-width="1"/><rect x="319.65" y="261.45" width="3.65" height="8.05" fill="#b8b8b8" stroke="#2e2e2e" stroke-width="1"/><rect x="323.3" y="261.45" width="3.65" height="8.05" fill="#ffffff" stroke="#333333" stroke-width="1"/><rect x="326.45" y="265.45" width="4.05" height="4.05" fill="#111111"/><line x1="315.5" y1="269.47" x2="319.65" y2="269.47" stroke="#222" stroke-width="1"/><line x1="319.15" y1="269.47" x2="323.3" y2="269.47" stroke="#222" stroke-width="1"/><line x1="322.8" y1="269.47" x2="326.95" y2="269.47" stroke="#222" stroke-width="1"/><rect x="334.25" y="237.32" width="3.65" height="32.18" fill="#555555" stroke="#262626" stroke-width="1"/><rect x="337.9" y="237.32" width="3.65" height="32.18" fill="#b8b8b8" stroke="#2e2e2e" stroke-width="1"/><rect x="341.55" y="237.62" width="3.65" height="31.88" fill="#ffffff" stroke="#333333" stroke-width="1"/><rect x="344.7" y="251.76" width="4.05" height="17.74" fill="#111111"/><line x1="333.75" y1="259.79" x2="337.9" y2="259.79" stroke="#222" stroke-width="1"/><line x1="337.4" y1="259.79" x2="341.55" y2="259.79" stroke="#222" stroke-width="1"/><line x1="341.05" y1="259.79" x2="345.2" y2="259.79" stroke="#222" stroke-width="1"/><rect x="353.2" y="227.34" width="3.65" height="42.16" fill="#555555" stroke="#262626" stroke-width="1"/><rect x="356.85" y="227.34" width="3.65" height="42.16" fill="#b8b8b8" stroke="#2e2e2e" stroke-width="1"/><rect x="360.5" y="228.16" width="3.65" height="41.34" fill="#ffffff" stroke="#333333" stroke-width="1"/><rect x="363.65" y="244.61" width="4.05" height="24.89" fill="#111111"/><line x1="352.7" y1="258.95" x2="356.85" y2="258.95" stroke="#222" stroke-width="1"/><line x1="356.35" y1="258.95" x2="360.5" y2="258.95" stroke="#222" stroke-width="1"/><line x1="360" y1="258.95" x2="364.15" y2="258.95" stroke="#222" stroke-width="1"/><rect x="371.5" y="192.47" width="3.65" height="77.03" fill="#555555" stroke="#262626" stroke-width="1"/><rect x="375.15" y="192.47" width="3.65" height="77.03" fill="#b8b8b8" stroke="#2e2e2e" stroke-width="1"/><rect x="378.8" y="193.3" width="3.65" height="76.2" fill="#ffffff" stroke="#333333" stroke-width="1"/><rect x="381.95" y="233.46" width="4.05" height="36.04" fill="#111111"/><line x1="371" y1="244.83" x2="375.15" y2="244.83" stroke="#222" stroke-width="1"/><line x1="374.65" y1="244.83" x2="378.8" y2="244.83" stroke="#222" stroke-width="1"/><line x1="378.3" y1="244.83" x2="382.45" y2="244.83" stroke="#222" stroke-width="1"/><rect x="390.2" y="173.38" width="3.65" height="96.12" fill="#555555" stroke="#262626" stroke-width="1"/><rect x="393.85" y="173.38" width="3.65" height="96.12" fill="#b8b8b8" stroke="#2e2e2e" stroke-width="1"/><rect x="397.5" y="173.9" width="3.65" height="95.6" fill="#ffffff" stroke="#333333" stroke-width="1"/><rect x="400.65" y="227.14" width="4.05" height="42.36" fill="#111111"/><line x1="389.7" y1="234.48" x2="393.85" y2="234.48" stroke="#222" stroke-width="1"/><line x1="393.35" y1="234.48" x2="397.5" y2="234.48" stroke="#222" stroke-width="1"/><line x1="397" y1="234.48" x2="401.15" y2="234.48" stroke="#222" stroke-width="1"/><line x1="314" y1="172.2" x2="314" y2="270" stroke="#444" stroke-width="1"/><line x1="313.5" y1="269.5" x2="411.6" y2="269.5" stroke="#444" stroke-width="1"/><line x1="312.5" y1="269.5" x2="314" y2="269.5" stroke="#333" stroke-width="0.8"/><text x="308.1" y="272.6" text-anchor="end">0</text><line x1="312.5" y1="251.9" x2="314" y2="251.9" stroke="#333" stroke-width="0.8"/><text x="308.1" y="255" text-anchor="end" textLength="13.9" lengthAdjust="spacing">100</text><line x1="312.5" y1="234.3" x2="314" y2="234.3" stroke="#333" stroke-width="0.8"/><text x="308.1" y="237.4" text-anchor="end" textLength="13.9" lengthAdjust="spacing">200</text><line x1="312.5" y1="216.7" x2="314" y2="216.7" stroke="#333" stroke-width="0.8"/><text x="308.1" y="219.8" text-anchor="end" textLength="13.9" lengthAdjust="spacing">300</text><line x1="312.5" y1="199.1" x2="314" y2="199.1" stroke="#333" stroke-width="0.8"/><text x="308.1" y="202.2" text-anchor="end" textLength="13.9" lengthAdjust="spacing">400</text><line x1="312.5" y1="181.5" x2="314" y2="181.5" stroke="#333" stroke-width="0.8"/><text x="308.1" y="184.6" text-anchor="end" textLength="13.9" lengthAdjust="spacing">500</text><line x1="322.9" y1="269.5" x2="322.9" y2="271.3" stroke="#333" stroke-width="0.8"/><text x="323.5" y="282.1" text-anchor="middle" textLength="13.9" lengthAdjust="spacing">100</text><line x1="341.4" y1="269.5" x2="341.4" y2="271.3" stroke="#333" stroke-width="0.8"/><text x="342" y="282.1" text-anchor="middle" textLength="13.9" lengthAdjust="spacing">200</text><line x1="359.9" y1="269.5" x2="359.9" y2="271.3" stroke="#333" stroke-width="0.8"/><text x="360.5" y="282.1" text-anchor="middle" textLength="13.9" lengthAdjust="spacing">300</text><line x1="378.4" y1="269.5" x2="378.4" y2="271.3" stroke="#333" stroke-width="0.8"/><text x="379" y="282.1" text-anchor="middle" textLength="13.9" lengthAdjust="spacing">400</text><line x1="396.9" y1="269.5" x2="396.9" y2="271.3" stroke="#333" stroke-width="0.8"/><text x="397.5" y="282.1" text-anchor="middle" textLength="13.9" lengthAdjust="spacing">500</text><text x="363" y="294.5" text-anchor="middle" font-size="8.6" textLength="47.6" lengthAdjust="spacing">distance (m)</text><text transform="translate(287.5,220.8) rotate(-90)" text-anchor="middle">frequency</text><text x="355.8" y="162.1" text-anchor="middle" font-weight="bold" font-size="8.6" textLength="54.3" lengthAdjust="spacing">Mother tree 8</text></g>
<g><rect x="453" y="265.27" width="3.65" height="4.23" fill="#555555" stroke="#262626" stroke-width="1"/><rect x="456.65" y="265.27" width="3.65" height="4.23" fill="#b8b8b8" stroke="#2e2e2e" stroke-width="1"/><rect x="460.3" y="265.95" width="3.65" height="3.55" fill="#ffffff" stroke="#333333" stroke-width="1"/><rect x="463.45" y="265.45" width="4.05" height="4.05" fill="#111111"/><rect x="471.25" y="238.67" width="3.65" height="30.83" fill="#555555" stroke="#262626" stroke-width="1"/><rect x="474.9" y="238.67" width="3.65" height="30.83" fill="#b8b8b8" stroke="#2e2e2e" stroke-width="1"/><rect x="478.55" y="246.13" width="3.65" height="23.37" fill="#ffffff" stroke="#333333" stroke-width="1"/><rect x="481.7" y="251.76" width="4.05" height="17.74" fill="#111111"/><line x1="470.75" y1="262.61" x2="474.9" y2="262.61" stroke="#222" stroke-width="1"/><line x1="474.4" y1="262.61" x2="478.55" y2="262.61" stroke="#222" stroke-width="1"/><line x1="478.05" y1="265.95" x2="482.2" y2="265.95" stroke="#222" stroke-width="1"/><rect x="490.2" y="208.61" width="3.65" height="60.89" fill="#555555" stroke="#262626" stroke-width="1"/><rect x="493.85" y="208.61" width="3.65" height="60.89" fill="#b8b8b8" stroke="#2e2e2e" stroke-width="1"/><rect x="497.5" y="216.94" width="3.65" height="52.56" fill="#ffffff" stroke="#333333" stroke-width="1"/><rect x="500.65" y="237.64" width="4.05" height="31.86" fill="#111111"/><line x1="489.7" y1="251.8" x2="493.85" y2="251.8" stroke="#222" stroke-width="1"/><line x1="493.35" y1="251.8" x2="497.5" y2="251.8" stroke="#222" stroke-width="1"/><line x1="497" y1="254.79" x2="501.15" y2="254.79" stroke="#222" stroke-width="1"/><rect x="508.5" y="178" width="3.65" height="91.5" fill="#555555" stroke="#262626" stroke-width="1"/><rect x="512.15" y="178" width="3.65" height="91.5" fill="#b8b8b8" stroke="#2e2e2e" stroke-width="1"/><rect x="515.8" y="186.65" width="3.65" height="82.85" fill="#ffffff" stroke="#333333" stroke-width="1"/><rect x="518.95" y="230.78" width="4.05" height="38.72" fill="#111111"/><line x1="508" y1="236.82" x2="512.15" y2="236.82" stroke="#222" stroke-width="1"/><line x1="511.65" y1="236.82" x2="515.8" y2="236.82" stroke="#222" stroke-width="1"/><line x1="515.3" y1="239.82" x2="519.45" y2="239.82" stroke="#222" stroke-width="1"/><rect x="527.2" y="173.38" width="3.65" height="96.12" fill="#555555" stroke="#262626" stroke-width="1"/><rect x="530.85" y="173.38" width="3.65" height="96.12" fill="#b8b8b8" stroke="#2e2e2e" stroke-width="1"/><rect x="534" y="181.65" width="2.6" height="87.85" fill="#b8b8b8"/><line x1="534.5" y1="181.65" x2="534.5" y2="269.5" stroke="#909090" stroke-width="0.9"/><rect x="536.6" y="181.65" width="3.85" height="87.85" fill="#fff"/><path d="M534.9 181.65H540.45V269.5" fill="none" stroke="#333333" stroke-width="1"/><rect x="539.95" y="229.3" width="4.05" height="40.2" fill="#111111"/><line x1="526.7" y1="234.32" x2="530.85" y2="234.32" stroke="#222" stroke-width="1"/><line x1="530.35" y1="234.32" x2="534.5" y2="234.32" stroke="#222" stroke-width="1"/><line x1="536.6" y1="237.81" x2="540.45" y2="237.81" stroke="#222" stroke-width="1"/><line x1="451" y1="172.2" x2="451" y2="270" stroke="#444" stroke-width="1"/><line x1="450.5" y1="269.5" x2="548.6" y2="269.5" stroke="#444" stroke-width="1"/><line x1="449.5" y1="269.5" x2="451" y2="269.5" stroke="#333" stroke-width="0.8"/><text x="445.1" y="272.6" text-anchor="end">0</text><line x1="449.5" y1="251.9" x2="451" y2="251.9" stroke="#333" stroke-width="0.8"/><text x="445.1" y="255" text-anchor="end" textLength="13.9" lengthAdjust="spacing">100</text><line x1="449.5" y1="234.3" x2="451" y2="234.3" stroke="#333" stroke-width="0.8"/><text x="445.1" y="237.4" text-anchor="end" textLength="13.9" lengthAdjust="spacing">200</text><line x1="449.5" y1="216.7" x2="451" y2="216.7" stroke="#333" stroke-width="0.8"/><text x="445.1" y="219.8" text-anchor="end" textLength="13.9" lengthAdjust="spacing">300</text><line x1="449.5" y1="199.1" x2="451" y2="199.1" stroke="#333" stroke-width="0.8"/><text x="445.1" y="202.2" text-anchor="end" textLength="13.9" lengthAdjust="spacing">400</text><line x1="449.5" y1="181.5" x2="451" y2="181.5" stroke="#333" stroke-width="0.8"/><text x="445.1" y="184.6" text-anchor="end" textLength="13.9" lengthAdjust="spacing">500</text><line x1="459.9" y1="269.5" x2="459.9" y2="271.3" stroke="#333" stroke-width="0.8"/><text x="460.5" y="282.1" text-anchor="middle" textLength="13.9" lengthAdjust="spacing">100</text><line x1="478.4" y1="269.5" x2="478.4" y2="271.3" stroke="#333" stroke-width="0.8"/><text x="479" y="282.1" text-anchor="middle" textLength="13.9" lengthAdjust="spacing">200</text><line x1="496.9" y1="269.5" x2="496.9" y2="271.3" stroke="#333" stroke-width="0.8"/><text x="497.5" y="282.1" text-anchor="middle" textLength="13.9" lengthAdjust="spacing">300</text><line x1="515.4" y1="269.5" x2="515.4" y2="271.3" stroke="#333" stroke-width="0.8"/><text x="516" y="282.1" text-anchor="middle" textLength="13.9" lengthAdjust="spacing">400</text><line x1="533.9" y1="269.5" x2="533.9" y2="271.3" stroke="#333" stroke-width="0.8"/><text x="534.5" y="282.1" text-anchor="middle" textLength="13.9" lengthAdjust="spacing">500</text><text x="500" y="294.5" text-anchor="middle" font-size="8.6" textLength="47.6" lengthAdjust="spacing">distance (m)</text><text transform="translate(424.5,220.8) rotate(-90)" text-anchor="middle">frequency</text><text x="492.7" y="162.1" text-anchor="middle" font-weight="bold" font-size="8.6" textLength="54.3" lengthAdjust="spacing">Mother tree 9</text></g>
<g><rect x="589.5" y="261.11" width="3.65" height="8.39" fill="#555555" stroke="#262626" stroke-width="1"/><rect x="593.15" y="261.11" width="3.65" height="8.39" fill="#b8b8b8" stroke="#2e2e2e" stroke-width="1"/><rect x="596.8" y="261.11" width="3.65" height="8.39" fill="#ffffff" stroke="#333333" stroke-width="1"/><rect x="599.95" y="265.75" width="4.05" height="3.75" fill="#111111"/><line x1="589" y1="266.48" x2="593.15" y2="266.48" stroke="#222" stroke-width="1"/><line x1="592.65" y1="266.48" x2="596.8" y2="266.48" stroke="#222" stroke-width="1"/><line x1="596.3" y1="266.48" x2="600.45" y2="266.48" stroke="#222" stroke-width="1"/><rect x="607.75" y="245.18" width="3.65" height="24.32" fill="#555555" stroke="#262626" stroke-width="1"/><rect x="611.4" y="245.18" width="3.65" height="24.32" fill="#b8b8b8" stroke="#2e2e2e" stroke-width="1"/><rect x="615.05" y="245.71" width="3.65" height="23.79" fill="#ffffff" stroke="#333333" stroke-width="1"/><rect x="618.2" y="256.6" width="4.05" height="12.9" fill="#111111"/><line x1="607.25" y1="261.78" x2="611.4" y2="261.78" stroke="#222" stroke-width="1"/><line x1="610.9" y1="261.78" x2="615.05" y2="261.78" stroke="#222" stroke-width="1"/><line x1="614.55" y1="261.78" x2="618.7" y2="261.78" stroke="#222" stroke-width="1"/><rect x="626.7" y="202.45" width="3.65" height="67.05" fill="#555555" stroke="#262626" stroke-width="1"/><rect x="630.35" y="202.45" width="3.65" height="67.05" fill="#b8b8b8" stroke="#2e2e2e" stroke-width="1"/><rect x="634" y="202.94" width="3.65" height="66.56" fill="#ffffff" stroke="#333333" stroke-width="1"/><rect x="637.15" y="236.29" width="4.05" height="33.21" fill="#111111"/><line x1="626.2" y1="247.82" x2="630.35" y2="247.82" stroke="#222" stroke-width="1"/><line x1="629.85" y1="247.82" x2="634" y2="247.82" stroke="#222" stroke-width="1"/><line x1="633.5" y1="247.82" x2="637.65" y2="247.82" stroke="#222" stroke-width="1"/><rect x="645" y="179.99" width="3.65" height="89.51" fill="#555555" stroke="#262626" stroke-width="1"/><rect x="648.65" y="179.99" width="3.65" height="89.51" fill="#b8b8b8" stroke="#2e2e2e" stroke-width="1"/><rect x="652.3" y="180.82" width="3.65" height="88.68" fill="#ffffff" stroke="#333333" stroke-width="1"/><rect x="655.45" y="228.49" width="4.05" height="41.01" fill="#111111"/><line x1="644.5" y1="236.98" x2="648.65" y2="236.98" stroke="#222" stroke-width="1"/><line x1="648.15" y1="236.98" x2="652.3" y2="236.98" stroke="#222" stroke-width="1"/><line x1="651.8" y1="236.98" x2="655.95" y2="236.98" stroke="#222" stroke-width="1"/><rect x="663.7" y="173.73" width="3.65" height="95.77" fill="#555555" stroke="#262626" stroke-width="1"/><rect x="667.35" y="173.73" width="3.65" height="95.77" fill="#b8b8b8" stroke="#2e2e2e" stroke-width="1"/><rect x="671" y="173.9" width="3.65" height="95.6" fill="#ffffff" stroke="#333333" stroke-width="1"/><rect x="674.15" y="226.8" width="4.05" height="42.7" fill="#111111"/><line x1="663.2" y1="234.48" x2="667.35" y2="234.48" stroke="#222" stroke-width="1"/><line x1="666.85" y1="234.48" x2="671" y2="234.48" stroke="#222" stroke-width="1"/><line x1="670.5" y1="234.48" x2="674.65" y2="234.48" stroke="#222" stroke-width="1"/><line x1="587.5" y1="172.2" x2="587.5" y2="270" stroke="#444" stroke-width="1"/><line x1="587" y1="269.5" x2="685.1" y2="269.5" stroke="#444" stroke-width="1"/><line x1="586" y1="269.5" x2="587.5" y2="269.5" stroke="#333" stroke-width="0.8"/><text x="581.2" y="272.6" text-anchor="end">0</text><line x1="586" y1="251.9" x2="587.5" y2="251.9" stroke="#333" stroke-width="0.8"/><text x="581.2" y="255" text-anchor="end" textLength="13.9" lengthAdjust="spacing">100</text><line x1="586" y1="234.3" x2="587.5" y2="234.3" stroke="#333" stroke-width="0.8"/><text x="581.2" y="237.4" text-anchor="end" textLength="13.9" lengthAdjust="spacing">200</text><line x1="586" y1="216.7" x2="587.5" y2="216.7" stroke="#333" stroke-width="0.8"/><text x="581.2" y="219.8" text-anchor="end" textLength="13.9" lengthAdjust="spacing">300</text><line x1="586" y1="199.1" x2="587.5" y2="199.1" stroke="#333" stroke-width="0.8"/><text x="581.2" y="202.2" text-anchor="end" textLength="13.9" lengthAdjust="spacing">400</text><line x1="586" y1="181.5" x2="587.5" y2="181.5" stroke="#333" stroke-width="0.8"/><text x="581.2" y="184.6" text-anchor="end" textLength="13.9" lengthAdjust="spacing">500</text><line x1="596.4" y1="269.5" x2="596.4" y2="271.3" stroke="#333" stroke-width="0.8"/><text x="596.6" y="282.1" text-anchor="middle" textLength="13.9" lengthAdjust="spacing">100</text><line x1="614.9" y1="269.5" x2="614.9" y2="271.3" stroke="#333" stroke-width="0.8"/><text x="615.1" y="282.1" text-anchor="middle" textLength="13.9" lengthAdjust="spacing">200</text><line x1="633.4" y1="269.5" x2="633.4" y2="271.3" stroke="#333" stroke-width="0.8"/><text x="633.6" y="282.1" text-anchor="middle" textLength="13.9" lengthAdjust="spacing">300</text><line x1="651.9" y1="269.5" x2="651.9" y2="271.3" stroke="#333" stroke-width="0.8"/><text x="652.1" y="282.1" text-anchor="middle" textLength="13.9" lengthAdjust="spacing">400</text><line x1="670.4" y1="269.5" x2="670.4" y2="271.3" stroke="#333" stroke-width="0.8"/><text x="670.6" y="282.1" text-anchor="middle" textLength="13.9" lengthAdjust="spacing">500</text><text x="636.1" y="294.5" text-anchor="middle" font-size="8.6" textLength="47.6" lengthAdjust="spacing">distance (m)</text><text transform="translate(560.6,220.8) rotate(-90)" text-anchor="middle">frequency</text><text x="629" y="162.1" text-anchor="middle" font-weight="bold" font-size="8.6" textLength="58.9" lengthAdjust="spacing">Mother tree 10</text></g>
</svg>
</body></html>
